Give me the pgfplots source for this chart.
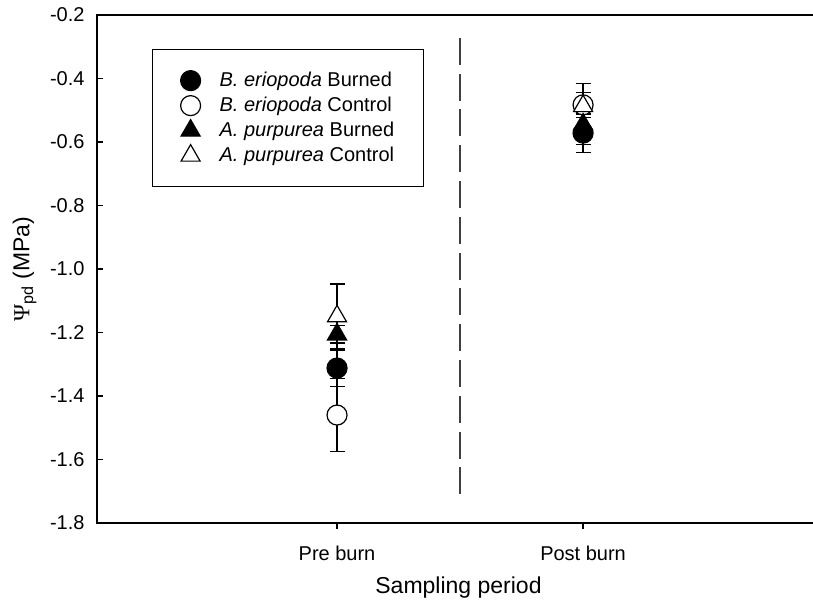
\documentclass[border=0pt]{standalone}
\usepackage{pgfplots}
\pgfplotsset{compat=1.18}
\usepackage{fontspec}
\setmainfont{Liberation Sans}
\newfontfamily\psifont{Liberation Serif}
\begin{document}
\begin{tikzpicture}
\begin{axis}[
  scale only axis,
  width=723pt, height=508pt,
  xmin=-0.9756, xmax=1.963,
  ymin=-1.8, ymax=-0.2,
  axis line style={line width=1.2pt},
  axis x line*=box, axis y line*=box,
  xtick={0,1}, xticklabels={Pre burn, Post burn},
  ytick={-1.8,-1.6,-1.4,-1.2,-1.0,-0.8,-0.6,-0.4,-0.2},
  xtick pos=bottom, ytick pos=left,
  xtick align=outside, ytick align=inside,
  major tick length=6pt,
  tick style={line width=1.2pt, black},
  /pgf/number format/assume math mode=true,
  /pgf/number format/.cd, fixed, fixed zerofill, precision=1, /pgfplots/.cd,
  yticklabel style={font=\fontsize{20}{24}\selectfont, xshift=-9pt},
  xticklabel style={font=\fontsize{20}{24}\selectfont, anchor=base, yshift=-32pt},
  xlabel={Sampling period},
  ylabel={{\psifont Ψ}\textsubscript{pd} (MPa)},
  xlabel style={font=\fontsize{23}{27}\selectfont, at={(axis description cs:0.5,-0.1378)}, anchor=base},
  ylabel style={font=\fontsize{23}{27}\selectfont, at={(axis description cs:-0.100,0.5)}, anchor=center, rotate=0},
  legend style={at={(axis description cs:0.0761,0.933)}, anchor=north west,
    draw=black, line width=1.2pt, fill=white,
    inner xsep=28pt, inner ysep=20pt,
    font=\fontsize{20}{24}\selectfont,
    nodes={inner sep=1pt, text height=16pt, text depth=4pt},
    row sep=3pt,
    /tikz/every odd column/.append style={column sep=18pt}},
  legend cell align=left,
  legend image code/.code={\draw[#1] plot coordinates {(0pt,0pt)};},
  error bars/y dir=both, error bars/y explicit,
  error bars/error bar style={line width=1.2pt, black},
  error bars/error mark options={rotate=90, mark size=7.5pt, line width=1.2pt, black},
]
\addplot[only marks, mark=*, mark size=10pt, draw=black, fill=black, line width=1.2pt]
  coordinates {(0,-1.312) +- (0,0.057) (1,-0.572) +- (0,0.060)};
\addlegendentry{\textit{B. eriopoda} Burned}
\addplot[only marks, mark=*, mark size=10pt, draw=black, fill=white, line width=1.2pt]
  coordinates {(0,-1.460) +- (0,0.114) (1,-0.483) +- (0,0.040)};
\addlegendentry{\textit{B. eriopoda} Control}
\addplot[only marks, mark=triangle*, mark size=11pt, draw=black, fill=black, line width=1.2pt]
  coordinates {(0,-1.206) +- (0,0.027) (1,-0.545) +- (0,0.064)};
\addlegendentry{\textit{A. purpurea} Burned}
\addplot[only marks, mark=triangle*, mark size=11pt, draw=black, fill=white, line width=1.2pt]
  coordinates {(0,-1.149) +- (0,0.102) (1,-0.487) +- (0,0.070)};
\addlegendentry{\textit{A. purpurea} Control}
\addplot[forget plot, no marks, line width=1.3pt, dash pattern=on 27pt off 8.8pt, black!75]
  coordinates {(0.5,-0.272) (0.5,-1.712)};
\end{axis}
\pgfresetboundingbox
\path[use as bounding box] (-97pt,-78pt) rectangle (716pt,523pt);
\end{tikzpicture}
\end{document}
